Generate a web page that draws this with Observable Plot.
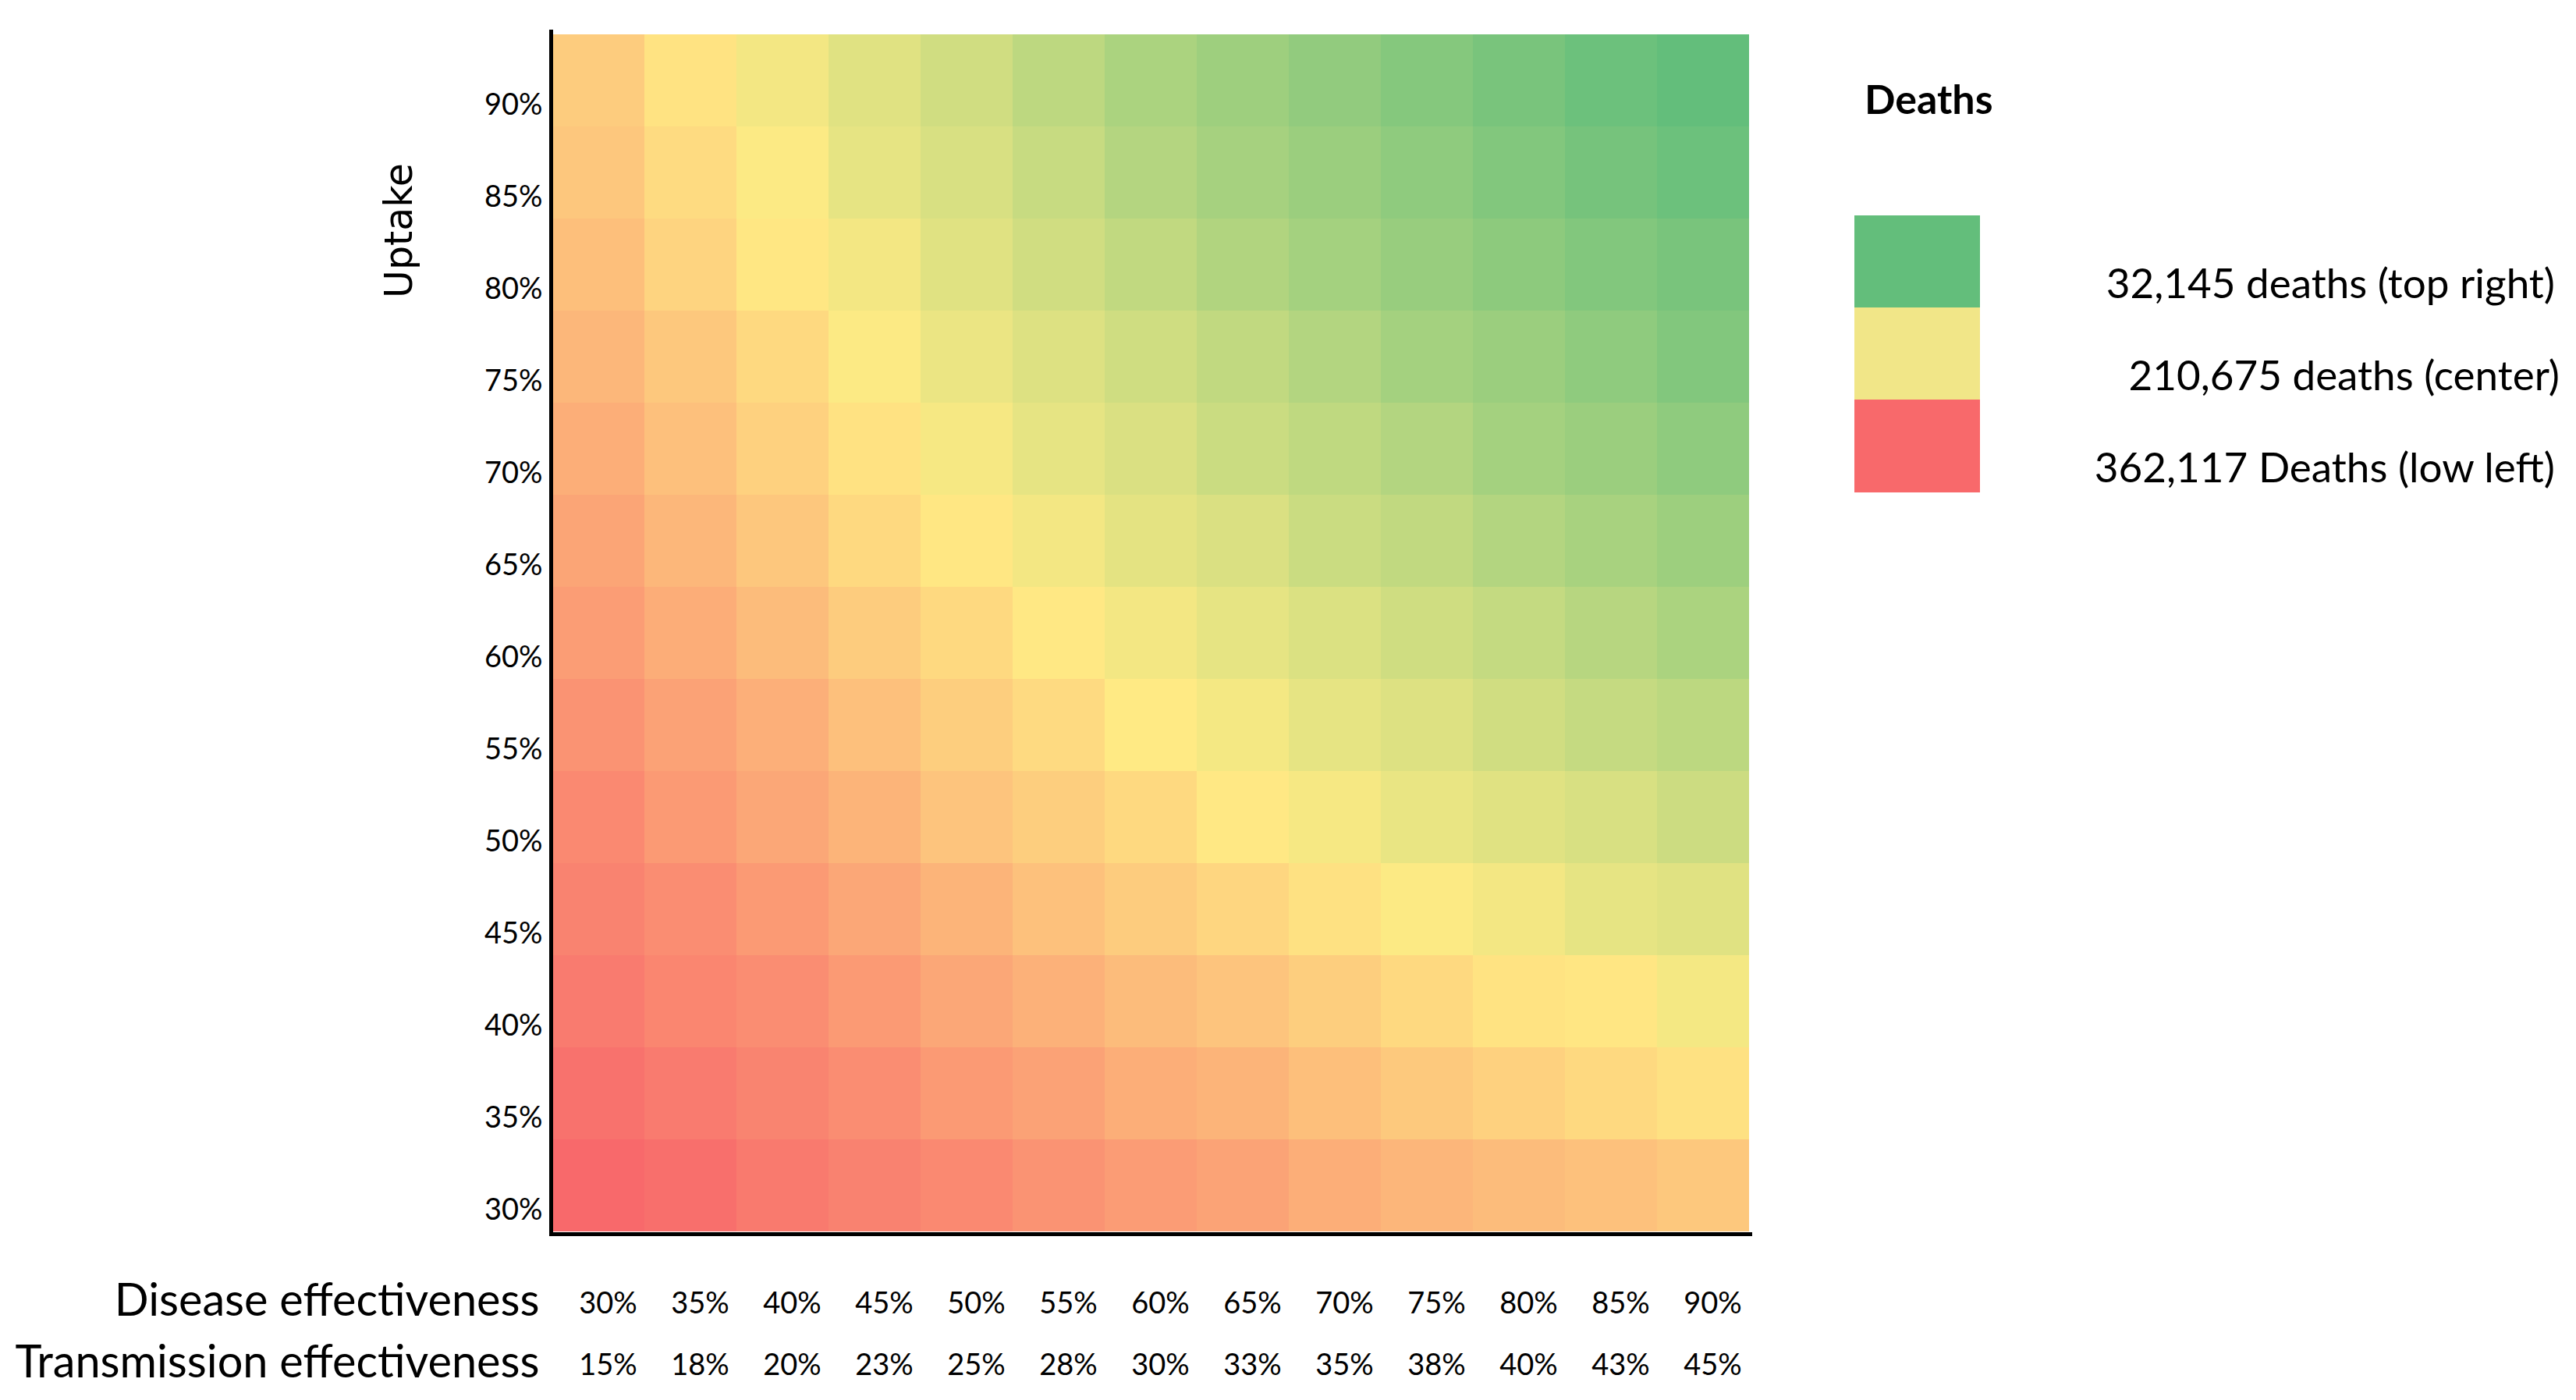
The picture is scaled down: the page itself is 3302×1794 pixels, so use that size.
<!DOCTYPE html>
<html>
<head>
<meta charset="utf-8">
<script src="https://cdn.jsdelivr.net/npm/d3@7"></script>
<script src="https://cdn.jsdelivr.net/npm/@observablehq/plot@0.6"></script>
<style>
  html, body { margin: 0; padding: 0; background: #fff; }
  #wrap { position: relative; width: 3302px; height: 1794px; overflow: hidden; }
  #chart { position: absolute; left: 0; top: 0; }
  .lg { position: absolute; font-family: Lato, "Open Sans", sans-serif; color: #000; white-space: nowrap; }
  .lg-title { font-weight: bold; font-size: 52px; }
  .lg-box { position: absolute; }
  .lg-label { font-size: 53px; text-align: right; }
</style>
</head>
<body>
<div id="wrap"><div id="chart"></div></div>
<script>
// ---- data ----
const diseaseEff = ["30%","35%","40%","45%","50%","55%","60%","65%","70%","75%","80%","85%","90%"];
const transmissionEff = ["15%","18%","20%","23%","25%","28%","30%","33%","35%","38%","40%","43%","45%"];
const uptake = ["90%","85%","80%","75%","70%","65%","60%","55%","50%","45%","40%","35%","30%"];

const deathsUptake90 = [247000, 219800, 196400, 175000, 157100, 135700, 114300, 100000, 85700, 71400, 57100, 42900, 32145];
const deathsUptake85 = [253100, 228800, 207100, 182100, 166000, 146400, 125000, 108900, 96400, 82100, 67900, 53600, 42900];
const deathsUptake80 = [262200, 237900, 215200, 196400, 175000, 157100, 139300, 121400, 107100, 92800, 80300, 67900, 57100];
const deathsUptake75 = [271300, 251600, 231900, 207100, 187500, 171400, 155300, 139300, 123200, 107100, 96400, 82100, 67900];
const deathsUptake70 = [281900, 260700, 241000, 221300, 200000, 182100, 167800, 150000, 137500, 123200, 107100, 96400, 82100];
const deathsUptake65 = [292500, 271300, 253100, 231900, 215200, 196400, 180300, 167800, 150000, 139300, 123200, 110700, 98200];
const deathsUptake60 = [301500, 283400, 265200, 247000, 231900, 213700, 196400, 182100, 169600, 155300, 142800, 128600, 114300];
const deathsUptake55 = [313700, 295500, 280300, 260700, 244000, 230400, 212200, 198200, 182100, 171400, 157100, 144600, 133900];
const deathsUptake50 = [324900, 304600, 289400, 274300, 256100, 244000, 231900, 213700, 200000, 185700, 175000, 166000, 151800];
const deathsUptake45 = [331800, 319700, 304600, 289400, 274300, 259100, 247000, 234900, 222800, 207100, 196400, 182100, 175000];
const deathsUptake40 = [340900, 328800, 319700, 304600, 289400, 278800, 265200, 256100, 244000, 231900, 219800, 216700, 198200];
const deathsUptake35 = [351500, 340900, 330300, 319700, 304600, 295500, 281900, 274300, 262200, 250100, 241000, 231900, 222800];
const deathsUptake30 = [362117, 355200, 342400, 333000, 324900, 313700, 302800, 294600, 281900, 272800, 265200, 259100, 251600];

const legendTitle = "Deaths";
const legendLabels = ["32,145 deaths (top right)", "210,675 deaths (center)", "362,117 Deaths (low left)"];
const legendValues = [32145, 210675, 362117];
const legendColors = ["#63BE7B", "#F1E688", "#F8696B"];

// ---- build table ----
const rows = [deathsUptake90, deathsUptake85, deathsUptake80, deathsUptake75, deathsUptake70,
  deathsUptake65, deathsUptake60, deathsUptake55, deathsUptake50, deathsUptake45,
  deathsUptake40, deathsUptake35, deathsUptake30];
const table = [];
rows.forEach((vals, r) => vals.forEach((v, c) => table.push({uptake: uptake[r], disease: diseaseEff[c], deaths: v})));

const font = "Lato, 'Open Sans', sans-serif";

const chart = Plot.plot({
  width: 2300,
  height: 1794,
  marginLeft: 706,
  marginRight: 57,
  marginTop: 40,
  marginBottom: 213,
  style: {fontFamily: font, background: "#fff", color: "#000"},
  x: {domain: diseaseEff, padding: 0, axis: null},
  y: {domain: uptake, padding: 0, axis: null},
  color: {type: "linear", domain: [32145, 210675, 362117], range: ["#63BE7B", "#FFEB84", "#F8696B"], interpolate: "rgb"},
  marks: [
    Plot.cell(table, {x: "disease", y: "uptake", fill: "deaths", shapeRendering: "crispEdges"}),
    // y tick labels
    Plot.text(uptake, {y: d => d, text: d => d, frameAnchor: "left", textAnchor: "end", lineAnchor: "middle", dx: -11, dy: 31, fontSize: 38, fill: "#000"}),
    // x tick labels: disease effectiveness
    Plot.text(diseaseEff, {x: d => d, text: d => d, frameAnchor: "bottom", lineAnchor: "middle", dx: 12, dy: 89, fontSize: 38, fill: "#000"}),
    // x tick labels: transmission effectiveness
    Plot.text(transmissionEff, {x: (d, i) => diseaseEff[i], text: d => d, frameAnchor: "bottom", lineAnchor: "middle", dx: 12, dy: 168, fontSize: 38, fill: "#000"}),
    // row headers
    Plot.text(["Disease effectiveness"], {frameAnchor: "bottom-left", textAnchor: "end", lineAnchor: "middle", dx: -15, dy: 86, fontSize: 57.7, fill: "#000"}),
    Plot.text(["Transmission effectiveness"], {frameAnchor: "bottom-left", textAnchor: "end", lineAnchor: "middle", dx: -15, dy: 165, fontSize: 57.7, fill: "#000"}),
    // y axis title
    Plot.text(["Uptake"], {frameAnchor: "top-left", textAnchor: "middle", lineAnchor: "middle", rotate: -90, dx: -194, dy: 255, fontSize: 49, fontFamily: "'DejaVu Sans', sans-serif", fill: "#000"}),
    // axis lines
    Plot.frame({anchor: "left", stroke: "#000", strokeWidth: 5, strokeLinecap: "square"}),
    Plot.frame({anchor: "bottom", stroke: "#000", strokeWidth: 5, strokeLinecap: "square"})
  ]
});
document.getElementById("chart").appendChild(chart);

// ---- legend (HTML) ----
const wrap = document.getElementById("wrap");
const t = document.createElement("div");
t.className = "lg lg-title";
t.textContent = legendTitle;
t.style.left = "2390px";
t.style.top = (126 - 35) + "px";
t.style.lineHeight = "70px";
wrap.appendChild(t);

const boxTops = [276, 394, 512];
const labelRights = [3275, 3281, 3275];
legendLabels.forEach((lab, i) => {
  const b = document.createElement("div");
  b.className = "lg-box";
  b.style.left = "2377px";
  b.style.top = boxTops[i] + "px";
  b.style.width = "161px";
  b.style.height = "119px";
  b.style.background = legendColors[i];
  b.title = String(legendValues[i]);
  wrap.appendChild(b);
  const l = document.createElement("div");
  l.className = "lg lg-label";
  l.textContent = lab;
  l.style.right = (3302 - labelRights[i]) + "px";
  l.style.top = (boxTops[i] + 86 - 35) + "px";
  l.style.lineHeight = "70px";
  wrap.appendChild(l);
});
</script>
</body>
</html>
